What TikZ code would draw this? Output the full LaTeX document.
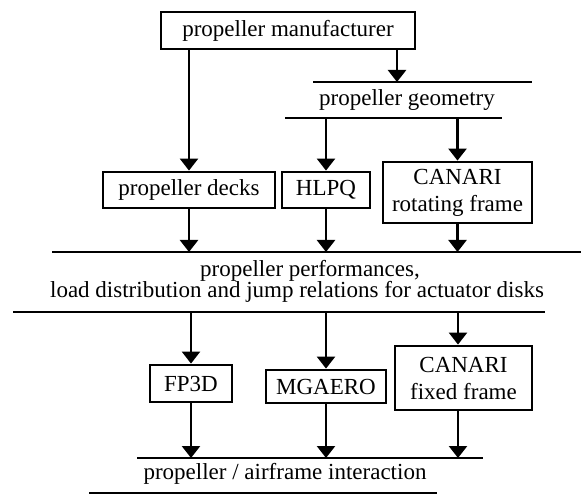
\documentclass[tikz,border=0pt]{standalone}
\usepackage{fontspec}
\setmainfont{Liberation Serif}
\usetikzlibrary{positioning,arrows.meta}

\begin{document}
\begin{tikzpicture}[x=0.5pt,y=-0.5pt,>={Triangle[length=6pt,width=9pt]},
   every node/.style={font=\fontsize{11.5}{13.5}\selectfont},
   box/.style={draw,line width=1.4pt,inner sep=0pt,minimum height=18pt,align=center},
   bar/.style={line width=1.1pt},
   flow/.style={->,line width=1.2pt}]
  \useasboundingbox (0,0) rectangle (583,497);
  % boxes
  \node[box,minimum width=127pt,minimum height=18.5pt] (man) at (288,30.5) {propeller manufacturer};
  \node[box,minimum width=86pt] (decks) at (189,190) {propeller decks};
  \node[box,minimum width=44pt] (hlpq) at (326,190) {HLPQ};
  \node[box,minimum width=74.5pt,minimum height=30.5pt] (canrot) at (457.5,192.5) {CANARI\\rotating frame};
  \node[box,minimum width=41pt,minimum height=18.5pt] (fp) at (191,383.5) {FP3D};
  \node[box,minimum width=60pt,minimum height=16.5pt] (mg) at (326,386.5) {MGAERO};
  \node[box,minimum width=68.5pt,minimum height=32pt] (canfix) at (463.5,378) {CANARI\\fixed frame};
  % data
  \node (geo) at (407,100) {propeller geometry};
  \node (perfa) at (310,271) {propeller performances,};
  \node (perfb) at (297,292) {load distribution and jump relations for actuator disks};
  \node (inter) at (285,474) {propeller / airframe interaction};
  % bars
  \coordinate (ga) at (313,82);  \coordinate (gb) at (532,82);
  \coordinate (gc) at (285,118); \coordinate (gd) at (502,118);
  \coordinate (pa) at (52,252);  \coordinate (pb) at (581,252);
  \coordinate (pc) at (13,312);  \coordinate (pd) at (545,312);
  \coordinate (ia) at (137,458); \coordinate (ib) at (483,458);
  \coordinate (ic) at (89,493);  \coordinate (id) at (437,493);
  \coordinate (gin) at (397,82);
  \coordinate (cfx) at (458,0);
  \draw[bar] (ga) -- (gb) (gc) -- (gd) (pa) -- (pb) (pc) -- (pd)
    (ia) -- (ib) (ic) -- (id);
  \path[flow]
   (man.south -| decks) edge (decks)
   (man.south -| gin) edge (gin)
   (hlpq |- gc) edge (hlpq)
   (canrot |- gc) edge (canrot)
   (decks) edge (decks |- pa)
   (hlpq) edge (hlpq |- pa)
   (canrot) edge (canrot |- pa)
   (fp |- pc) edge (fp)
   (mg |- pc) edge (mg)
   (cfx |- pc) edge (cfx |- canfix.north)
   (fp) edge (fp |- ia)
   (mg) edge (mg |- ia)
   (cfx |- canfix.south) edge (cfx |- ia);
\end{tikzpicture}
\end{document}
